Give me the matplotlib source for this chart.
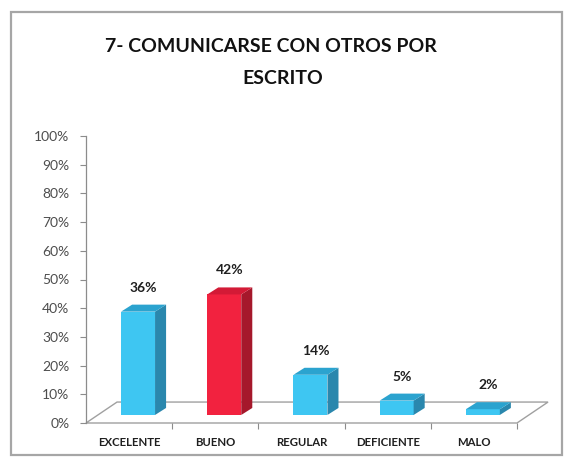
import matplotlib
matplotlib.use('Agg')
import matplotlib.pyplot as plt
from matplotlib.patches import Polygon, Rectangle
import numpy as np

plt.rcParams['font.family'] = ['Lato', 'DejaVu Sans']

# datos de la pregunta 7
categorias = ['EXCELENTE', 'BUENO', 'REGULAR', 'DEFICIENTE', 'MALO']
porcentajes = [36, 42, 14, 5, 2]
destacada = 'BUENO'

# colores (frente, techo, lateral)
azul = ('#3ec6f2', '#2ba3cf', '#2a87ad')
rojo = ('#f2223f', '#d31a36', '#a5182b')

# geometria del "3D" en unidades de datos
ancho = 0.394
desp_barra = 0.104
prof_x, prof_y = 0.128, 2.44
base = 2.8
piso_x, piso_y = 0.36, 7.3

fig = plt.figure(figsize=(5.66, 4.59), dpi=100)
fig.patch.set_facecolor('white')

# marco del grafico
fig.patches.append(Rectangle((11 / 566, 4 / 459), 551 / 566, 443 / 459,
                             transform=fig.transFigure, fill=False,
                             edgecolor='#a6a6a6', lw=1.6))

# titulo en dos lineas
estilo_titulo = dict(ha='center', va='center', fontsize=14,
                     fontweight='bold', color='#111111')
fig.text(271 / 566, 1 - 46 / 459, '7- COMUNICARSE CON OTROS POR',
         **estilo_titulo)
fig.text(283 / 566, 1 - 79 / 459, 'ESCRITO', **estilo_titulo)

ax = fig.add_axes([86 / 566, 36 / 459, 431 / 566, 287 / 459])
ax.set_xlim(0, len(categorias))
ax.set_ylim(0, 100)
for s in ['top', 'right', 'bottom']:
    ax.spines[s].set_visible(False)
ax.spines['left'].set_color('#8c8c8c')
ax.spines['left'].set_linewidth(0.9)

ax.set_yticks(np.arange(0, 101, 10))
ax.set_yticklabels([f'{t}%' for t in range(0, 101, 10)])
ax.tick_params(axis='y', direction='out', length=4, color='#8c8c8c',
               labelsize=10, labelcolor='#4d4d4d', pad=8)

n = len(categorias)
ax.set_xticks(np.arange(1, n + 1))
ax.set_xticklabels([])
ax.set_xticks(np.arange(n) + 0.5, categorias, minor=True)
ax.tick_params(axis='x', which='major', direction='out', length=4,
               color='#8c8c8c')
ax.tick_params(axis='x', which='minor', length=0, pad=10, labelsize=8.2,
               labelcolor='#1f1f1f')
for lab in ax.get_xticklabels(minor=True):
    lab.set_fontweight('bold')

# piso
piso = [(0, 0), (n, 0), (n + piso_x, piso_y), (piso_x, piso_y)]
ax.add_patch(Polygon(piso, closed=True, facecolor='white',
                     edgecolor='#a0a0a0', lw=1.0, clip_on=False, zorder=1))

x = np.arange(n) + 0.5 + desp_barra - ancho / 2
for xi, v, cat in zip(x, porcentajes, categorias):
    frente, techo, lado = rojo if cat == destacada else azul
    ax.bar(xi, v, ancho, bottom=base, align='edge', color=frente,
           zorder=3, clip_on=False)
    r = xi + ancho
    t = base + v
    ax.add_patch(Polygon([(r, base), (r + prof_x, base + prof_y),
                          (r + prof_x, t + prof_y), (r, t)],
                         closed=True, facecolor=lado, lw=0, zorder=3,
                         clip_on=False))
    ax.add_patch(Polygon([(xi, t), (xi + prof_x, t + prof_y),
                          (r + prof_x, t + prof_y), (r, t)],
                         closed=True, facecolor=techo, lw=0, zorder=3,
                         clip_on=False))
    ax.annotate(f'{v}%', xy=(xi + ancho / 2 + prof_x / 2, t + prof_y),
                xytext=(0, 8), textcoords='offset points', ha='center',
                va='bottom', fontsize=10, fontweight='bold',
                color='#1f1f1f')

fig.savefig('out.png', dpi=100)
